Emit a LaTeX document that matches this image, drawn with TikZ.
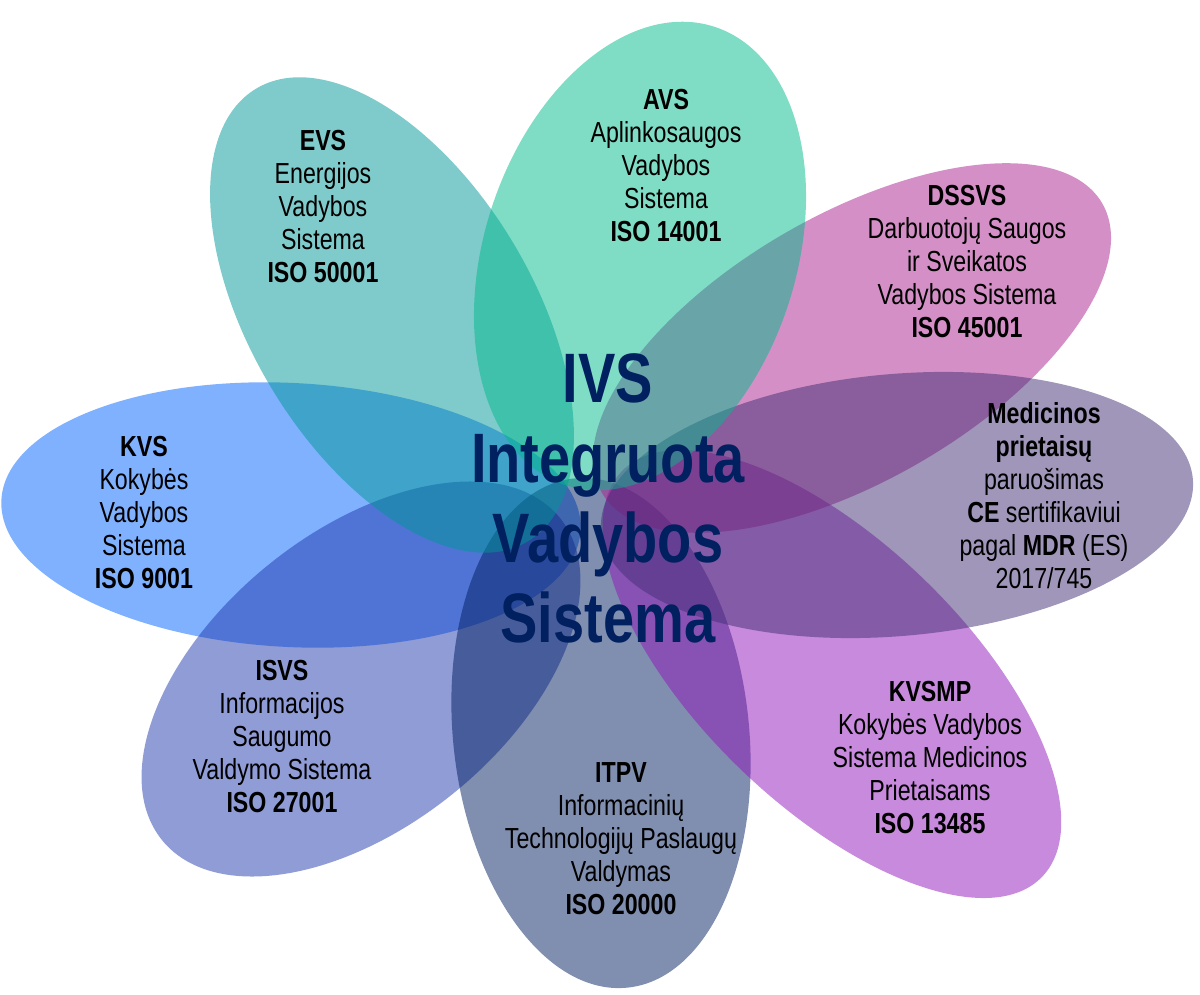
\documentclass[tikz,border=0pt]{standalone}
\usepackage{fontspec}
\setmainfont{Liberation Sans}[FakeStretch=0.8]

\definecolor{kvsblue}{HTML}{0063FF}
\definecolor{isvsblue}{HTML}{2139AD}
\definecolor{itpvnavy}{HTML}{011F61}
\definecolor{kvsmppurple}{HTML}{9115B9}
\definecolor{dssvspink}{HTML}{A9218D}
\definecolor{medgrey}{HTML}{412D73}
\definecolor{evsteal}{HTML}{009797}
\definecolor{avsgreen}{HTML}{00B98B}
\definecolor{ivsnavy}{HTML}{002060}

\begin{document}
\begin{tikzpicture}[x=0.5pt,y=-0.5pt,
    petal/.style={fill=#1,fill opacity=0.5},
    petaltext/.style={align=center,font=\fontsize{14.5}{16.5}\selectfont},
    ivstext/.style={align=center,text=ivsnavy,font=\fontsize{35}{40}\selectfont\bfseries}]

    \useasboundingbox (0,0) rectangle (1200,995);

    % petals: centre x / centre y / half length / half width / angle / colour
    \foreach \cx/\cy/\a/\b/\r/\c in {291/515/290/132/-3/kvsblue,
        361/679/256/147/39/isvsblue,
        601/733/256/148/96/itpvnavy,
        832/674/292/132/-44/kvsmppurple,
        852/348/289/133/30/dssvspink,
        897/505/297/131/5/medgrey,
        392/315/264/141/121/evsteal,
        640/256/241/156/72/avsgreen}
    \fill[petal=\c, rotate around={\r:(\cx,\cy)}] (\cx,\cy) ellipse [x radius=\a, y radius=\b];

    \node[petaltext] (evs) at (323,207) {\textbf{EVS}\\Energijos\\Vadybos\\Sistema\\\textbf{ISO 50001}};
    \node[petaltext] (avs) at (666,166) {\textbf{AVS}\\Aplinkosaugos\\Vadybos\\Sistema\\\textbf{ISO 14001}};
    \node[petaltext] (dssvs) at (967,262) {\textbf{DSSVS}\\Darbuotojų Saugos\\ir Sveikatos\\Vadybos Sistema\\\textbf{ISO 45001}};
    \node[petaltext] (mdr) at (1044,496) {\textbf{Medicinos}\\\textbf{prietaisų}\\paruošimas\\\textbf{CE} sertifikaviui\\pagal \textbf{MDR} (ES)\\2017/745};
    \node[petaltext] (kvsmp) at (930,758) {\textbf{KVSMP}\\Kokybės Vadybos\\Sistema Medicinos\\Prietaisams\\\textbf{ISO 13485}};
    \node[petaltext] (itpv) at (621,839) {\textbf{ITPV}\\Informacinių\\Technologijų Paslaugų\\Valdymas\\\textbf{ISO 20000}};
    \node[petaltext] (isvs) at (282,737) {\textbf{ISVS}\\Informacijos\\Saugumo\\Valdymo Sistema\\\textbf{ISO 27001}};
    \node[petaltext] (kvs) at (144,513) {\textbf{KVS}\\Kokybės\\Vadybos\\Sistema\\\textbf{ISO 9001}};

    \node[ivstext] (ivs) at (608,498) {IVS\\Integruota\\Vadybos\\Sistema};

\end{tikzpicture}
\end{document}
